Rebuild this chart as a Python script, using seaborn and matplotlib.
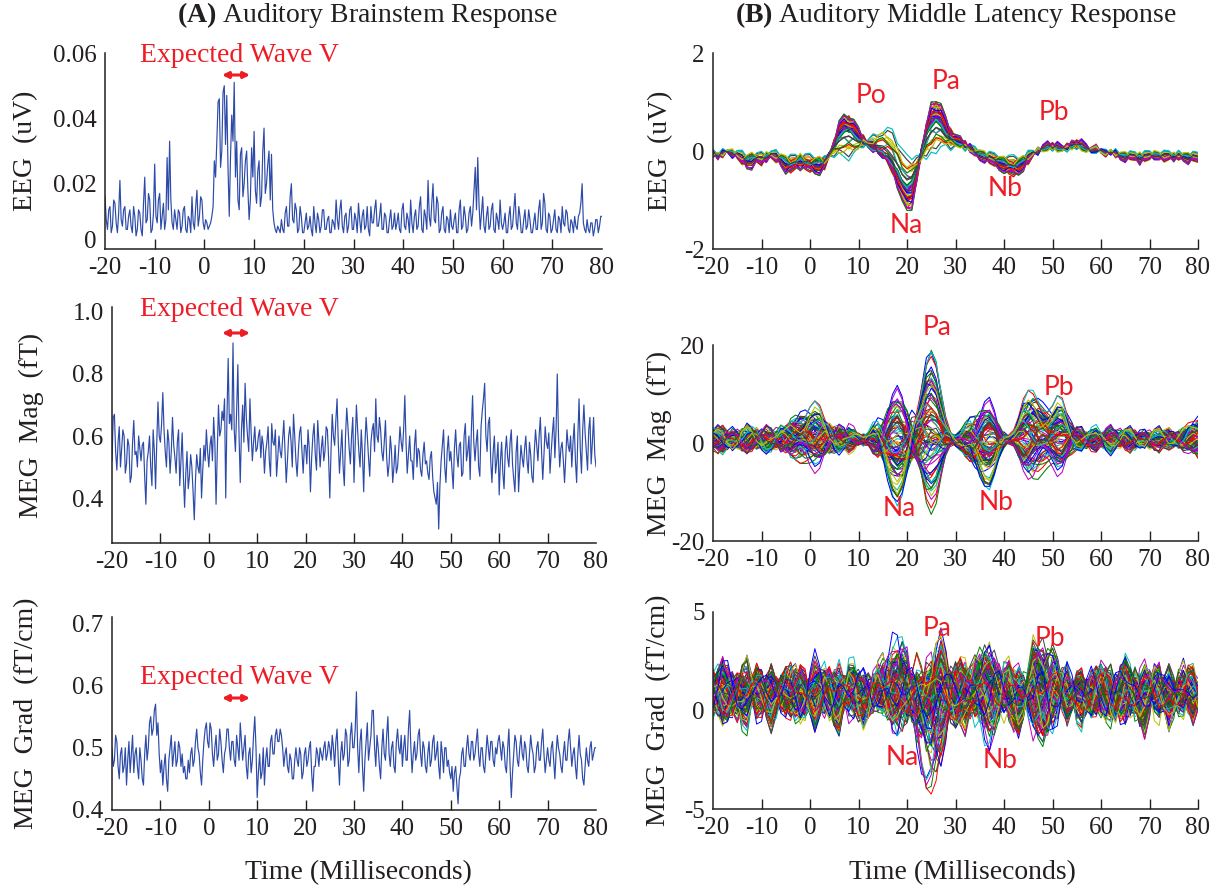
import numpy as np
import pandas as pd
import matplotlib
matplotlib.use("Agg")
import matplotlib.pyplot as plt
from matplotlib.transforms import ScaledTranslation
import seaborn as sns

# ------------------------------------------------------------------ data
XTICKS = [-20, -10, 0, 10, 20, 30, 40, 50, 60, 70, 80]
XTICK_LABELS = ["-20", "-10", "0", "10", "20", "30", "40", "50", "60", "70", "80"]
T0 = -20.0
ABR_DT = 0.25    # ms between ABR samples
MLR_DT = 1.0     # ms between MLR samples

ABR_EEG = [
    0.016, 0.009, 0.006, 0.012, 0.013, 0.005, 0.007, 0.015, 0.014, 0.008, 0.005, 0.011, 0.021, 0.009, 0.007, 0.012, 0.013, 0.006, 0.006, 0.010,
    0.012, 0.007, 0.005, 0.013, 0.010, 0.004, 0.006, 0.012, 0.011, 0.006, 0.004, 0.014, 0.022, 0.008, 0.009, 0.017, 0.015, 0.005, 0.006, 0.011,
    0.026, 0.010, 0.008, 0.015, 0.017, 0.006, 0.010, 0.014, 0.006, 0.009, 0.028, 0.012, 0.033, 0.015, 0.008, 0.006, 0.012, 0.009, 0.006, 0.012,
    0.011, 0.005, 0.007, 0.012, 0.013, 0.006, 0.005, 0.010, 0.009, 0.005, 0.016, 0.008, 0.006, 0.013, 0.018, 0.007, 0.010, 0.016, 0.015, 0.008,
    0.006, 0.009, 0.008, 0.006, 0.007, 0.008, 0.010, 0.013, 0.027, 0.022, 0.033, 0.045, 0.046, 0.025, 0.030, 0.048, 0.050, 0.032, 0.047, 0.025,
    0.010, 0.028, 0.041, 0.033, 0.051, 0.022, 0.033, 0.015, 0.012, 0.029, 0.031, 0.016, 0.020, 0.027, 0.030, 0.018, 0.009, 0.015, 0.031, 0.022,
    0.036, 0.018, 0.014, 0.024, 0.027, 0.013, 0.016, 0.030, 0.037, 0.017, 0.020, 0.026, 0.030, 0.015, 0.029, 0.012, 0.008, 0.006, 0.005, 0.007,
    0.006, 0.005, 0.009, 0.006, 0.005, 0.011, 0.013, 0.007, 0.007, 0.016, 0.020, 0.009, 0.008, 0.014, 0.012, 0.005, 0.006, 0.013, 0.010, 0.005,
    0.005, 0.008, 0.011, 0.006, 0.007, 0.010, 0.006, 0.004, 0.013, 0.008, 0.005, 0.011, 0.009, 0.005, 0.007, 0.012, 0.012, 0.006, 0.006, 0.009,
    0.010, 0.005, 0.005, 0.009, 0.008, 0.006, 0.015, 0.009, 0.006, 0.012, 0.015, 0.007, 0.005, 0.010, 0.011, 0.005, 0.007, 0.012, 0.013, 0.006,
    0.006, 0.011, 0.009, 0.005, 0.014, 0.009, 0.005, 0.010, 0.012, 0.006, 0.007, 0.013, 0.006, 0.004, 0.013, 0.008, 0.008, 0.012, 0.015, 0.007,
    0.007, 0.010, 0.014, 0.006, 0.006, 0.011, 0.010, 0.005, 0.005, 0.009, 0.012, 0.006, 0.007, 0.011, 0.006, 0.008, 0.011, 0.006, 0.005, 0.012,
    0.014, 0.007, 0.006, 0.011, 0.009, 0.005, 0.015, 0.008, 0.005, 0.010, 0.012, 0.006, 0.007, 0.013, 0.016, 0.006, 0.005, 0.012, 0.010, 0.006,
    0.021, 0.010, 0.007, 0.014, 0.020, 0.009, 0.008, 0.016, 0.014, 0.005, 0.006, 0.011, 0.013, 0.006, 0.005, 0.010, 0.009, 0.005, 0.012, 0.007,
    0.006, 0.009, 0.011, 0.005, 0.005, 0.012, 0.015, 0.006, 0.007, 0.013, 0.010, 0.005, 0.006, 0.011, 0.013, 0.007, 0.011, 0.018, 0.025, 0.012,
    0.028, 0.014, 0.006, 0.011, 0.016, 0.007, 0.005, 0.010, 0.013, 0.006, 0.007, 0.012, 0.014, 0.006, 0.005, 0.011, 0.009, 0.006, 0.015, 0.008,
    0.006, 0.008, 0.011, 0.005, 0.005, 0.010, 0.013, 0.006, 0.007, 0.012, 0.017, 0.008, 0.006, 0.013, 0.010, 0.005, 0.005, 0.009, 0.012, 0.006,
    0.007, 0.012, 0.009, 0.005, 0.005, 0.008, 0.011, 0.006, 0.006, 0.012, 0.015, 0.006, 0.008, 0.017, 0.014, 0.006, 0.005, 0.011, 0.010, 0.005,
    0.006, 0.009, 0.012, 0.006, 0.005, 0.010, 0.009, 0.005, 0.013, 0.008, 0.007, 0.012, 0.011, 0.006, 0.005, 0.009, 0.008, 0.005, 0.010, 0.007,
    0.006, 0.010, 0.011, 0.014, 0.020, 0.008, 0.006, 0.005, 0.009, 0.006, 0.005, 0.008, 0.008, 0.004, 0.006, 0.009, 0.009, 0.005, 0.007, 0.010,
    0.010,
]

ABR_MAG = [
    0.52, 0.66, 0.67, 0.55, 0.49, 0.58, 0.63, 0.50, 0.56, 0.62, 0.60, 0.48, 0.51, 0.59, 0.57, 0.45, 0.47, 0.58, 0.65, 0.54,
    0.55, 0.50, 0.60, 0.56, 0.52, 0.57, 0.58, 0.47, 0.38, 0.52, 0.55, 0.60, 0.50, 0.44, 0.62, 0.55, 0.43, 0.58, 0.71, 0.60,
    0.58, 0.64, 0.74, 0.62, 0.55, 0.50, 0.62, 0.58, 0.48, 0.55, 0.66, 0.57, 0.53, 0.48, 0.58, 0.62, 0.44, 0.52, 0.61, 0.47,
    0.37, 0.48, 0.55, 0.43, 0.47, 0.54, 0.50, 0.42, 0.33, 0.46, 0.54, 0.50, 0.48, 0.56, 0.40, 0.49, 0.57, 0.52, 0.62, 0.55,
    0.50, 0.57, 0.60, 0.52, 0.66, 0.58, 0.38, 0.55, 0.70, 0.60, 0.62, 0.68, 0.65, 0.72, 0.40, 0.66, 0.85, 0.64, 0.67, 0.62,
    0.90, 0.62, 0.55, 0.68, 0.83, 0.60, 0.45, 0.62, 0.70, 0.58, 0.77, 0.66, 0.60, 0.55, 0.72, 0.61, 0.52, 0.58, 0.63, 0.55,
    0.56, 0.60, 0.62, 0.53, 0.60, 0.57, 0.48, 0.55, 0.58, 0.63, 0.52, 0.47, 0.64, 0.58, 0.57, 0.62, 0.47, 0.53, 0.60, 0.55,
    0.53, 0.59, 0.65, 0.55, 0.45, 0.52, 0.60, 0.63, 0.58, 0.50, 0.67, 0.60, 0.52, 0.47, 0.55, 0.61, 0.63, 0.55, 0.48, 0.57,
    0.57, 0.51, 0.62, 0.56, 0.42, 0.53, 0.60, 0.64, 0.54, 0.49, 0.65, 0.58, 0.50, 0.56, 0.60, 0.52, 0.55, 0.63, 0.62, 0.53,
    0.40, 0.55, 0.67, 0.60, 0.57, 0.65, 0.72, 0.58, 0.48, 0.55, 0.62, 0.50, 0.44, 0.60, 0.69, 0.63, 0.56, 0.51, 0.60, 0.66,
    0.45, 0.58, 0.70, 0.62, 0.55, 0.50, 0.62, 0.54, 0.42, 0.57, 0.66, 0.60, 0.53, 0.47, 0.58, 0.62, 0.64, 0.55, 0.72, 0.60,
    0.58, 0.66, 0.62, 0.55, 0.52, 0.58, 0.65, 0.53, 0.47, 0.51, 0.60, 0.55, 0.45, 0.50, 0.57, 0.48, 0.50, 0.56, 0.63, 0.58,
    0.55, 0.62, 0.73, 0.58, 0.48, 0.54, 0.60, 0.52, 0.52, 0.46, 0.57, 0.62, 0.50, 0.56, 0.55, 0.49, 0.47, 0.54, 0.58, 0.51,
    0.52, 0.48, 0.46, 0.53, 0.55, 0.47, 0.42, 0.40, 0.38, 0.45, 0.30, 0.44, 0.52, 0.57, 0.62, 0.50, 0.45, 0.55, 0.60, 0.52,
    0.55, 0.49, 0.43, 0.56, 0.62, 0.54, 0.50, 0.57, 0.58, 0.47, 0.48, 0.60, 0.64, 0.52, 0.55, 0.60, 0.46, 0.62, 0.73, 0.58,
    0.52, 0.58, 0.62, 0.50, 0.47, 0.63, 0.68, 0.72, 0.77, 0.60, 0.55, 0.64, 0.66, 0.52, 0.45, 0.55, 0.60, 0.48, 0.52, 0.58,
    0.41, 0.52, 0.58, 0.48, 0.43, 0.55, 0.60, 0.53, 0.50, 0.58, 0.62, 0.51, 0.46, 0.42, 0.55, 0.60, 0.42, 0.50, 0.57, 0.53,
    0.50, 0.56, 0.60, 0.52, 0.48, 0.58, 0.54, 0.47, 0.45, 0.55, 0.62, 0.57, 0.52, 0.60, 0.66, 0.55, 0.46, 0.54, 0.63, 0.58,
    0.56, 0.61, 0.48, 0.55, 0.61, 0.66, 0.53, 0.62, 0.80, 0.60, 0.50, 0.56, 0.58, 0.52, 0.45, 0.53, 0.62, 0.57, 0.55, 0.60,
    0.50, 0.58, 0.64, 0.52, 0.45, 0.60, 0.72, 0.56, 0.48, 0.62, 0.70, 0.61, 0.55, 0.49, 0.62, 0.66, 0.51, 0.58, 0.66, 0.54,
    0.50,
]

ABR_GRAD = [
    0.50, 0.47, 0.48, 0.52, 0.51, 0.47, 0.45, 0.49, 0.50, 0.46, 0.47, 0.50, 0.44, 0.48, 0.51, 0.46, 0.49, 0.52, 0.46, 0.49,
    0.50, 0.47, 0.45, 0.50, 0.48, 0.45, 0.44, 0.49, 0.52, 0.48, 0.50, 0.54, 0.55, 0.52, 0.53, 0.56, 0.57, 0.52, 0.54, 0.49,
    0.46, 0.48, 0.44, 0.47, 0.49, 0.45, 0.43, 0.48, 0.50, 0.52, 0.47, 0.49, 0.51, 0.47, 0.48, 0.51, 0.50, 0.47, 0.49, 0.46,
    0.47, 0.45, 0.45, 0.48, 0.46, 0.49, 0.50, 0.47, 0.48, 0.51, 0.53, 0.50, 0.49, 0.46, 0.44, 0.48, 0.51, 0.53, 0.54, 0.51,
    0.50, 0.54, 0.53, 0.49, 0.47, 0.50, 0.52, 0.48, 0.49, 0.53, 0.51, 0.48, 0.46, 0.49, 0.50, 0.53, 0.53, 0.50, 0.48, 0.51,
    0.51, 0.48, 0.47, 0.52, 0.50, 0.48, 0.54, 0.51, 0.48, 0.50, 0.52, 0.47, 0.45, 0.49, 0.50, 0.46, 0.48, 0.52, 0.55, 0.50,
    0.42, 0.46, 0.49, 0.45, 0.46, 0.50, 0.44, 0.48, 0.50, 0.47, 0.47, 0.51, 0.52, 0.49, 0.49, 0.52, 0.53, 0.51, 0.51, 0.53,
    0.52, 0.50, 0.47, 0.49, 0.50, 0.47, 0.46, 0.49, 0.48, 0.45, 0.45, 0.48, 0.50, 0.48, 0.47, 0.50, 0.49, 0.45, 0.46, 0.49,
    0.50, 0.47, 0.48, 0.50, 0.51, 0.46, 0.43, 0.47, 0.47, 0.50, 0.49, 0.47, 0.50, 0.49, 0.48, 0.50, 0.51, 0.48, 0.49, 0.51,
    0.50, 0.48, 0.52, 0.50, 0.47, 0.51, 0.53, 0.48, 0.44, 0.49, 0.51, 0.48, 0.49, 0.53, 0.52, 0.47, 0.48, 0.52, 0.54, 0.50,
    0.50, 0.53, 0.59, 0.50, 0.46, 0.51, 0.53, 0.47, 0.43, 0.48, 0.51, 0.54, 0.48, 0.50, 0.52, 0.56, 0.56, 0.50, 0.47, 0.52,
    0.50, 0.47, 0.45, 0.50, 0.53, 0.49, 0.48, 0.52, 0.55, 0.49, 0.47, 0.50, 0.51, 0.47, 0.46, 0.51, 0.53, 0.50, 0.49, 0.52,
    0.47, 0.50, 0.52, 0.48, 0.48, 0.53, 0.56, 0.50, 0.46, 0.49, 0.51, 0.48, 0.49, 0.52, 0.53, 0.49, 0.47, 0.51, 0.50, 0.47,
    0.46, 0.49, 0.51, 0.47, 0.48, 0.51, 0.52, 0.48, 0.49, 0.51, 0.47, 0.45, 0.51, 0.49, 0.46, 0.50, 0.50, 0.47, 0.48, 0.46,
    0.45, 0.47, 0.43, 0.46, 0.47, 0.44, 0.41, 0.45, 0.46, 0.49, 0.50, 0.47, 0.47, 0.50, 0.52, 0.49, 0.48, 0.51, 0.51, 0.48,
    0.49, 0.51, 0.53, 0.49, 0.47, 0.50, 0.50, 0.47, 0.46, 0.49, 0.52, 0.50, 0.48, 0.51, 0.51, 0.48, 0.47, 0.50, 0.49, 0.51,
    0.52, 0.50, 0.48, 0.51, 0.50, 0.47, 0.46, 0.50, 0.53, 0.47, 0.42, 0.46, 0.49, 0.52, 0.51, 0.48, 0.47, 0.50, 0.52, 0.49,
    0.48, 0.51, 0.50, 0.47, 0.46, 0.49, 0.52, 0.50, 0.49, 0.46, 0.47, 0.50, 0.51, 0.48, 0.48, 0.51, 0.53, 0.49, 0.46, 0.48,
    0.50, 0.48, 0.47, 0.50, 0.51, 0.48, 0.45, 0.49, 0.52, 0.50, 0.49, 0.47, 0.46, 0.49, 0.51, 0.48, 0.48, 0.51, 0.53, 0.50,
    0.47, 0.49, 0.50, 0.47, 0.45, 0.49, 0.52, 0.49, 0.48, 0.45, 0.44, 0.47, 0.50, 0.48, 0.47, 0.50, 0.51, 0.48, 0.49, 0.50,
    0.50,
]

# ---- MLR EEG: shared waveform, alternative waveform, small ripple
MLR_EEG_MAIN = [
    -0.05, -0.10, -0.05, 0.00, -0.05, -0.08, -0.15, -0.22, -0.20, -0.15,
    -0.18, -0.12, -0.08, -0.12, -0.18, -0.28, -0.30, -0.25, -0.22, -0.25,
    -0.28, -0.30, -0.30, -0.25, -0.05, 0.15, 0.38, 0.50, 0.50, 0.42,
    0.30, 0.20, 0.12, 0.06, 0.00, -0.06, -0.15, -0.30, -0.50, -0.72,
    -0.85, -0.80, -0.45, 0.00, 0.40, 0.65, 0.72, 0.65, 0.45, 0.30,
    0.22, 0.18, 0.12, 0.05, -0.05, -0.10, -0.12, -0.15, -0.20, -0.25,
    -0.28, -0.32, -0.35, -0.32, -0.25, -0.15, -0.05, 0.00, 0.05, 0.10,
    0.10, 0.08, 0.05, 0.08, 0.12, 0.15, 0.12, 0.05, 0.02, 0.05,
    0.00, -0.05, -0.02, -0.05, -0.10, -0.12, -0.10, -0.12, -0.15, -0.12,
    -0.10, -0.08, -0.10, -0.12, -0.10, -0.12, -0.10, -0.12, -0.15, -0.12,
    -0.15,
]
MLR_EEG_ALT = [0.0] * 20 + [
    0.00, 0.00, 0.00, -0.05, -0.10, -0.15, -0.25, -0.35, -0.35, -0.25,
    -0.10, 0.05, 0.15, 0.25, 0.35, 0.45, 0.50, 0.50, 0.40, 0.30,
    0.25, 0.20, 0.05, -0.15, -0.30, -0.35, -0.30, -0.20, -0.10, -0.05,
    0.00, 0.00, 0.00, 0.05, 0.08, 0.05, 0.00, 0.00, 0.00, 0.00,
] + [0.0] * 41
MLR_EEG_RIPPLE = [
    0.05, -0.03, 0.06, -0.02, -0.06, 0.04, 0.07, -0.04, -0.08, 0.02,
    0.06, -0.05, 0.03, 0.07, -0.04, -0.06, 0.05, 0.03, -0.07, 0.04,
    0.06, -0.03, -0.06, 0.05, 0.02, -0.04, 0.06, 0.03, -0.05, 0.04,
    0.05, -0.06, 0.03, 0.07, -0.03, -0.05, 0.04, 0.06, -0.04, 0.03,
    0.02, -0.05, 0.04, 0.05, -0.03, 0.06, -0.04, 0.03, 0.05, -0.06,
    0.02, 0.04, -0.05, 0.06, 0.03, -0.04, -0.06, 0.05, 0.04, -0.03,
    -0.05, 0.04, 0.06, -0.03, -0.05, 0.07, 0.03, -0.06, 0.04, 0.05,
    -0.04, 0.06, 0.03, -0.05, 0.04, -0.03, 0.06, 0.05, -0.04, -0.06,
    0.03, 0.05, -0.04, 0.06, -0.03, -0.05, 0.04, 0.03, -0.06, 0.05,
    0.04, -0.05, -0.03, 0.06, 0.04, -0.04, 0.05, -0.03, -0.05, 0.04,
    0.03,
]
EEG_GAIN = [1.0, 0.8, 1.2, 0.9, 1.4, 0.6, 1.1, 0.95, 1.3, 0.7, 1.05, 0.85, 1.25, 0.5,
            1.15, 0.9, 1.35, 0.75, 1.0, 0.65, 1.2, 0.88, 1.45, 0.55, 1.1, 0.98, 1.3,
            0.72, 1.02, 0.82, 1.18, 0.4, 0.92, 1.08, 0.78, 1.22, 0.68, 1.12, 0.86,
            1.38, 0.6, 0.96]
EEG_ALT_W = [0, 0, 0.2, 0, 0, 0.6, 0, 0, 0, 0.3, 0, 0, 0, 0.9, 0, 0.1, 0, 0.4, 0,
             0.7, 0, 0, 0, 0.5, 0, 0, 0, 0.2, 0, 0, 0, 1.0, 0, 0, 0.3, 0, 0.6, 0, 0,
             0, 0.8, 0]
EEG_RIPPLE_W = [1.0, -0.8, 0.5, -1.2, 1.4, -0.3, 0.9, -1.0, 0.2, 1.2, -0.6, 0.7, -1.4,
                1.1, -0.2, 0.6, -0.9, 1.3, -0.5, 0.8, -1.1, 0.4, 1.0, -0.7, 0.3, -1.3,
                1.2, -0.4, 0.9, -0.8, 0.5, 1.1, -1.0, 0.6, -0.3, 1.4, -0.9, 0.2, -0.6,
                0.8, -1.2, 0.7]

# ---- MLR MEG magnetometers (fT)
MAG_PA = [
    0, 0, 0, 0, 0, 0, 0.02, 0.03, 0.02, 0.0,
    -0.02, 0.0, 0.03, 0.05, 0.04, 0.03, 0.08, 0.15, 0.25, 0.33,
    0.38, 0.35, 0.25, 0.12, 0.02, -0.03, 0.0, 0.06, 0.08, 0.05,
    0.02, 0.0, 0.02, 0.0, -0.08, -0.2, -0.3, -0.38, -0.42, -0.4,
    -0.3, -0.12, 0.12, 0.48, 0.85, 1.0, 0.88, 0.55, 0.2, 0.02,
    -0.05, -0.12, -0.2, -0.26, -0.32, -0.35, -0.36, -0.33, -0.25, -0.15,
    -0.05, 0.02, 0.06, 0.15, 0.28, 0.38, 0.44, 0.45, 0.4, 0.35,
    0.3, 0.32, 0.3, 0.22, 0.14, 0.08, 0.04, 0.0, -0.02, 0.0,
    0.02, 0.0, -0.02, 0.0, 0.02, 0.03, 0.0, -0.02, 0.0, 0.02,
    0.03, 0.02, 0.0, 0.0, 0.02, 0.03, 0.05, 0.08, 0.1, 0.12,
    0.15,
]
MAG_NA = [
    0, 0, 0.02, 0.03, 0.0, -0.02, 0.0, 0.03, 0.05, 0.03,
    0.0, -0.03, -0.05, -0.03, 0.0, 0.02, 0.0, -0.05, -0.12, -0.2,
    -0.25, -0.22, -0.15, -0.06, 0.02, 0.08, 0.12, 0.1, 0.05, 0.02,
    0.0, 0.0, 0.05, 0.15, 0.28, 0.45, 0.65, 0.85, 0.98, 1.0,
    0.8, 0.45, 0.1, -0.15, -0.3, -0.35, -0.3, -0.2, -0.08, 0.0,
    0.04, 0.12, 0.22, 0.33, 0.42, 0.48, 0.5, 0.46, 0.35, 0.2,
    0.08, 0.0, -0.04, -0.12, -0.22, -0.33, -0.4, -0.45, -0.43, -0.38,
    -0.32, -0.26, -0.18, -0.1, -0.04, 0.0, 0.04, 0.05, 0.02, 0.0,
    -0.02, 0.0, 0.03, 0.05, 0.03, 0.0, -0.02, 0.0, 0.02, 0.03,
    0.02, 0.0, -0.02, 0.0, 0.02, 0.0, -0.03, -0.05, -0.06, -0.08,
    -0.1,
]
MAG_BG1 = [
    0.8, 1.5, 1.2, 0.2, -0.8, -1.2, -0.5, 0.6, 1.4, 1.0,
    0.0, -1.0, -1.5, -0.8, 0.4, 1.3, 1.6, 0.7, -0.5, -1.4,
    -1.6, -0.8, 0.5, 1.5, 1.7, 0.9, -0.3, -1.3, -1.5, -0.6,
    0.2, 0.3, 0.6, 1.4, 1.8, 1.0, -0.4, -1.6, -2.0, -1.1,
    0.3, 1.6, 2.0, 1.2, -0.2, -1.5, -1.8, -0.9, 0.2, 0.4,
    0.1, 0.3, 1.2, 1.9, 1.5, 0.3, -1.0, -1.8, -1.4, -0.4,
    0.2, 0.1, 0.3, 1.0, 1.6, 1.3, 0.2, -1.0, -1.6, -1.1,
    0.0, 1.1, 1.5, 0.8, -0.4, -1.3, -1.2, -0.3, 0.7, 1.2,
    0.8, -0.2, -1.0, -1.2, -0.4, 0.6, 1.1, 0.7, -0.3, -1.0,
    -0.9, 0.0, 0.9, 1.2, 0.5, -0.5, -1.1, -0.8, 0.2, 1.0,
    1.3,
]
MAG_BG2 = [
    -1.0, -0.3, 0.6, 1.2, 0.9, 0.0, -0.9, -1.3, -0.6, 0.5,
    1.3, 1.1, 0.2, -0.8, -1.4, -0.9, 0.2, 1.2, 1.5, 0.8,
    -0.4, -1.4, -1.6, -0.7, 0.6, 1.5, 1.4, 0.3, -0.9, -1.2,
    -0.4, 0.3, -0.2, -1.2, -1.6, -0.8, 0.6, 1.7, 1.9, 0.8,
    -0.7, -1.8, -1.7, -0.4, 1.0, 1.8, 1.4, 0.2, -0.6, -0.5,
    -0.1, -0.4, -1.3, -1.8, -1.1, 0.3, 1.5, 1.8, 0.9, -0.3,
    -0.4, 0.0, -0.2, -1.1, -1.7, -1.0, 0.4, 1.4, 1.5, 0.6,
    -0.5, -1.3, -1.2, -0.2, 0.9, 1.3, 0.6, -0.5, -1.2, -0.9,
    0.1, 1.0, 1.1, 0.3, -0.7, -1.1, -0.5, 0.5, 1.0, 0.6,
    -0.4, -1.0, -0.7, 0.3, 1.0, 0.9, 0.0, -0.9, -1.2, -0.5,
    0.6,
]
MAG_BG3 = [
    0.5, -0.6, -0.9, 0.2, 1.0, 0.4, -0.7, -0.8, 0.3, 0.9,
    0.2, -0.8, -0.6, 0.5, 1.0, 0.1, -0.9, -0.5, 0.6, 0.8,
    -0.2, -1.0, -0.4, 0.7, 0.9, -0.1, -0.9, -0.6, 0.5, 0.6,
    0.0, -0.2, 0.3, 0.9, 0.2, -0.8, -0.9, 0.2, 1.1, 0.5,
    -0.7, -1.0, 0.1, 1.0, 0.6, -0.6, -0.9, 0.0, 0.5, 0.2,
    -0.1, 0.2, 0.8, 0.3, -0.7, -0.8, 0.2, 0.9, 0.4, -0.6,
    -0.3, 0.0, 0.2, 0.8, 0.3, -0.7, -0.9, 0.1, 0.9, 0.6,
    -0.4, -0.9, -0.2, 0.7, 0.8, -0.1, -0.8, -0.5, 0.5, 0.8,
    0.1, -0.7, -0.6, 0.4, 0.9, 0.2, -0.7, -0.6, 0.3, 0.7,
    0.2, -0.6, -0.7, 0.3, 0.8, 0.3, -0.5, -0.8, 0.0, 0.7,
    0.5,
]
MAG_N_CH = 84
MAG_PA_W = [18.5, -13.0, 6.0, 2.0, -4.0, 16.0, 0.0, 9.0, -8.0, 3.0, -2.0, 14.0, -11.0,
            5.0, 1.0, -6.0, 12.0, -1.0, 7.5, -9.5, 10.5, 4.0]
MAG_NA_W = [0.0, 2.8, -2.4, 1.6, -3.6, 0.8, 3.6, -1.6, 2.0, -2.8, 0.8, 3.2, -0.8, -3.2,
            2.4, -2.0]
MAG_BG1_W = [0.9, -0.6, 0.3, 1.1, -0.9, 0.7, -0.2, 1.0, -0.8, 0.5, -1.1]
MAG_BG2_W = [0.6, -0.9, 1.0, -0.4, 0.8, -1.0, 0.2, 0.9, -0.7]
MAG_BG3_W = [0.8, 0.3, -0.9, 1.0, -0.5, 0.6, -1.0, 0.0]
MAG_OFF = [0.8, 0.3, 1.2, 0.5, 1.0, 0.1]

# ---- MLR MEG gradiometers (fT/cm)
GRAD_NA = [0.0] * 30 + [
    0.0, 0.0, 0.0, 0.04, 0.08, 0.15, 0.25, 0.3, 0.3, 0.25,
    0.1, -0.1, -0.35, -0.65, -0.9, -1.0, -0.9, -0.6, -0.3, -0.05,
    0.1, 0.15, 0.12, 0.08, 0.04, 0.0, 0.0, 0.0, 0.0, 0.0,
] + [0.0] * 41
GRAD_OSC = [0.0] * 30 + [
    0.0, 0.0, 0.0, 0.05, 0.1, 0.2, 0.4, 0.65, 0.7, 0.55,
    0.25, -0.1, -0.3, -0.2, 0.1, 0.5, 0.8, 0.7, 0.4, 0.0,
    -0.3, -0.4, -0.3, 0.0, 0.4, 0.7, 0.9, 0.9, 0.6, 0.2,
    -0.2, -0.4, -0.3, -0.1, 0.1, 0.3, 0.5, 0.7, 0.85, 0.9,
    0.7, 0.4, 0.1, -0.1, -0.1, 0.0, 0.0, 0.0, 0.0, 0.0,
] + [0.0] * 21
GRAD_BG1 = [
    0.6, 0.9, 0.3, -0.5, -0.8, -0.2, 0.6, 0.8, 0.1, -0.7,
    -0.7, 0.1, 0.8, 0.6, -0.3, -0.9, -0.4, 0.5, 0.9, 0.2,
    -0.6, -0.8, 0.0, 0.8, 0.7, -0.2, -0.9, -0.5, 0.4, 0.9,
    0.3, -0.6, -0.8, 0.1, 0.9, 0.5, -0.5, -0.9, -0.1, 0.8,
    0.6, -0.4, -0.9, -0.2, 0.7, 0.8, -0.1, -0.8, -0.5, 0.5,
    0.9, 0.2, -0.7, -0.7, 0.2, 0.9, 0.4, -0.6, -0.8, 0.1,
    0.8, 0.5, -0.4, -0.9, -0.2, 0.7, 0.7, -0.2, -0.9, -0.4,
    0.6, 0.8, -0.1, -0.8, -0.6, 0.4, 0.9, 0.1, -0.7, -0.7,
    0.2, 0.9, 0.4, -0.6, -0.8, 0.1, 0.8, 0.5, -0.5, -0.9,
    -0.1, 0.8, 0.6, -0.4, -0.9, -0.2, 0.7, 0.7, -0.3, -0.8,
    -0.3,
]
GRAD_BG2 = [
    -0.4, 0.3, 0.8, 0.6, -0.1, -0.7, -0.8, -0.2, 0.5, 0.9,
    0.4, -0.3, -0.8, -0.6, 0.2, 0.8, 0.7, 0.0, -0.7, -0.8,
    -0.1, 0.6, 0.9, 0.3, -0.5, -0.9, -0.4, 0.4, 0.8, 0.5,
    -0.2, -0.8, -0.7, 0.0, 0.7, 0.8, 0.2, -0.6, -0.9, -0.3,
    0.5, 0.9, 0.4, -0.4, -0.9, -0.5, 0.3, 0.8, 0.6, -0.1,
    -0.7, -0.8, -0.1, 0.6, 0.9, 0.3, -0.5, -0.9, -0.4, 0.4,
    0.9, 0.5, -0.3, -0.8, -0.6, 0.1, 0.8, 0.7, -0.1, -0.8,
    -0.7, 0.0, 0.7, 0.8, 0.2, -0.6, -0.9, -0.3, 0.5, 0.9,
    0.4, -0.4, -0.9, -0.5, 0.3, 0.8, 0.6, -0.2, -0.8, -0.6,
    0.1, 0.8, 0.7, -0.1, -0.7, -0.8, -0.1, 0.6, 0.9, 0.3,
    -0.4,
]
GRAD_BG3 = [
    0.8, 0.0, -0.8, -0.4, 0.6, 0.7, -0.3, -0.9, 0.0, 0.8,
    0.5, -0.5, -0.8, 0.2, 0.9, 0.2, -0.7, -0.6, 0.4, 0.8,
    -0.1, -0.9, -0.3, 0.7, 0.6, -0.4, -0.8, 0.1, 0.9, 0.3,
    -0.6, -0.7, 0.3, 0.9, 0.0, -0.8, -0.4, 0.6, 0.7, -0.3,
    -0.9, -0.1, 0.8, 0.5, -0.5, -0.8, 0.2, 0.9, 0.2, -0.7,
    -0.6, 0.4, 0.8, -0.1, -0.9, -0.3, 0.7, 0.6, -0.4, -0.8,
    0.1, 0.9, 0.3, -0.6, -0.7, 0.3, 0.9, 0.0, -0.8, -0.4,
    0.6, 0.7, -0.3, -0.9, 0.0, 0.8, 0.5, -0.5, -0.8, 0.2,
    0.9, 0.2, -0.7, -0.6, 0.4, 0.8, -0.1, -0.9, -0.3, 0.7,
    0.6, -0.4, -0.8, 0.1, 0.9, 0.3, -0.6, -0.7, 0.3, 0.9,
    0.0,
]
GRAD_BG4 = [
    0.2, 0.6, 0.9, 0.8, 0.4, -0.2, -0.7, -0.9, -0.7, -0.2,
    0.4, 0.8, 0.9, 0.6, 0.0, -0.5, -0.9, -0.8, -0.4, 0.2,
    0.7, 0.9, 0.7, 0.2, -0.4, -0.8, -0.9, -0.5, 0.1, 0.6,
    0.9, 0.8, 0.3, -0.3, -0.8, -0.9, -0.6, 0.0, 0.6, 0.9,
    0.8, 0.4, -0.2, -0.7, -0.9, -0.7, -0.1, 0.5, 0.9, 0.8,
    0.4, -0.2, -0.7, -0.9, -0.7, -0.2, 0.4, 0.8, 0.9, 0.5,
    -0.1, -0.6, -0.9, -0.8, -0.3, 0.3, 0.8, 0.9, 0.6, 0.0,
    -0.6, -0.9, -0.8, -0.3, 0.3, 0.8, 0.9, 0.5, -0.1, -0.6,
    -0.9, -0.7, -0.2, 0.4, 0.8, 0.9, 0.5, -0.1, -0.7, -0.9,
    -0.8, -0.3, 0.3, 0.8, 0.9, 0.6, 0.0, -0.6, -0.9, -0.7,
    -0.2,
]
GRAD_N_CH = 150
GRAD_OFF = [0.8, 1.0, 0.6, 0.9, 1.1, 0.7, 0.75, 0.95, 0.6, 1.05, 0.8, 0.9, 0.65]
GRAD_NA_W = [4.4, -1.0, 0.6, 0.2, 1.5, -0.5, 0.0, 2.4, -1.2, 1.0, 0.4, -0.2, 1.3, 0.5,
             -0.7, 0.8, 2.0, -0.4, 0.3, 1.1, -0.8, 0.0, 1.7, 0.6, -0.3, 3.2, 0.2, -0.6,
             0.9, 1.4, -1.4, 0.1, 0.7, -0.1, 1.2, 0.5]
GRAD_OSC_W = [1.2, -1.6, 0.4, 1.7, -0.5, 0.0, 0.8, -1.2, 0.3, 1.4, -0.2, 0.6, -0.7,
              1.9, 0.9]
GRAD_BG1_W = [0.5, -0.35, 0.7, 0.25, -0.6, 0.45, -0.2, 0.6, -0.5, 0.35, 0.75]
GRAD_BG2_W = [0.45, 0.7, -0.25, 0.5, -0.6, 0.2, 0.75, -0.45, 0.35]
GRAD_BG3_W = [-0.45, 0.6, 0.35, -0.7, 0.25, 0.5, -0.2, 0.7]
GRAD_BG4_W = [0.6, -0.25, 0.45, 0.7, -0.5, -0.7]

# ---- text
TITLE_A = r"$\mathbf{(A)}$ Auditory Brainstem Response"
TITLE_B = r"$\mathbf{(B)}$ Auditory Middle Latency Response"
YLABELS_A = ["EEG  (uV)", "MEG  Mag  (fT)", "MEG  Grad  (fT/cm)"]
YLABELS_B = ["EEG  (uV)", "MEG  Mag  (fT)", "MEG  Grad  (fT/cm)"]
XLABEL = "Time (Milliseconds)"
WAVE_TEXT = "Expected Wave V"
PEAKS_EEG = [("Po", 12.5, 1.14), ("Pa", 28.1, 1.41), ("Na", 19.8, -1.53),
             ("Nb", 40.3, -0.76), ("Pb", 50.2, 0.78)]
PEAKS_MAG = [("Pa", 26.2, 23.5), ("Pb", 51.3, 11.4), ("Na", 18.4, -13.3),
             ("Nb", 38.4, -12.2)]
PEAKS_GRAD = [("Pa", 26.2, 4.16), ("Pb", 49.4, 3.65), ("Na", 19.0, -2.39),
              ("Nb", 39.2, -2.54)]

# ------------------------------------------------------------------ style
sns.set_theme(style="white")
SERIF = ["Liberation Serif", "DejaVu Serif"]
plt.rcParams["font.family"] = SERIF
plt.rcParams["mathtext.fontset"] = "custom"
plt.rcParams["mathtext.rm"] = "Liberation Serif"
plt.rcParams["mathtext.bf"] = "Liberation Serif:bold"
plt.rcParams["axes.unicode_minus"] = False

W, H = 1228, 890
INK = "#231f20"
RED = "#ee1c25"
BLUE = "#2c4aa8"
MATLAB = ["#0000ff", "#008000", "#ff0000", "#00bfbf", "#bf00bf", "#bfbf00", "#404040"]

fig = plt.figure(figsize=(W / 100, H / 100), dpi=100)
fig.patch.set_facecolor("white")


def px_axes(left, top, right, bottom):
    return fig.add_axes([left / W, 1 - bottom / H, (right - left) / W, (bottom - top) / H])


def style(ax, ylim, yticks, ylabels, ylabel, ylabel_px, left_px, width_px, hide_last):
    ax.set_xlim(-20, 80)
    ax.set_ylim(*ylim)
    ax.set_facecolor("none")
    for s in ["top", "right"]:
        ax.spines[s].set_visible(False)
    for s in ["left", "bottom"]:
        ax.spines[s].set_linewidth(1.1)
        ax.spines[s].set_color(INK)
    ax.set_xticks(XTICKS)
    ax.set_xticklabels(XTICK_LABELS, fontfamily=SERIF)
    ax.set_yticks(yticks)
    ax.set_yticklabels(ylabels, fontfamily=SERIF)
    ax.tick_params(axis="x", direction="in", length=7.5, width=1.0, color=INK, pad=6,
                   labelsize=18, labelcolor=INK, bottom=True)
    ax.tick_params(axis="y", length=0, pad=6, labelsize=18, labelcolor=INK, left=True)
    ticks = ax.xaxis.get_major_ticks()
    ticks[0].tick1line.set_visible(False)
    if hide_last:
        ticks[-1].tick1line.set_visible(False)
    ax.set_xlabel("")
    ax.set_ylabel(ylabel, fontsize=20, color=INK, va="center", ha="center", fontfamily=SERIF)
    ax.yaxis.set_label_coords((ylabel_px - left_px) / width_px, 0.5)
    ax.grid(False)


def abr_panel(ax, values):
    t = T0 + ABR_DT * np.arange(len(values))
    df = pd.DataFrame({"t": t, "v": values})
    sns.lineplot(data=df, x="t", y="v", color=BLUE, linewidth=0.85, ax=ax)


def mlr_panel(ax, rows, lw):
    t = T0 + MLR_DT * np.arange(len(rows[0]))
    names = [f"ch{k:03d}" for k in range(len(rows))]
    df = pd.concat([pd.DataFrame({"t": t, "v": r, "ch": n}) for n, r in zip(names, rows)],
                   ignore_index=True)
    pal = {n: MATLAB[k % len(MATLAB)] for k, n in enumerate(names)}
    sns.lineplot(data=df, x="t", y="v", hue="ch", hue_order=names, palette=pal,
                 estimator=None, legend=False, linewidth=lw, ax=ax)


# ---- channels
eeg_rows = [g * np.array(MLR_EEG_MAIN) + a * np.array(MLR_EEG_ALT) + w * np.array(MLR_EEG_RIPPLE)
            for g, a, w in zip(EEG_GAIN, EEG_ALT_W, EEG_RIPPLE_W)]
mag_rows = []
for k in range(MAG_N_CH):
    mag_rows.append(MAG_PA_W[k % len(MAG_PA_W)] * np.array(MAG_PA)
                    + MAG_NA_W[k % len(MAG_NA_W)] * np.array(MAG_NA)
                    + MAG_BG1_W[k % len(MAG_BG1_W)] * np.array(MAG_BG1)
                    + MAG_BG2_W[k % len(MAG_BG2_W)] * np.array(MAG_BG2)
                    + MAG_BG3_W[k % len(MAG_BG3_W)] * np.array(MAG_BG3)
                    + MAG_OFF[k % len(MAG_OFF)])
grad_rows = []
for k in range(GRAD_N_CH):
    grad_rows.append(GRAD_OFF[k % len(GRAD_OFF)]
                     + GRAD_NA_W[k % len(GRAD_NA_W)] * np.array(GRAD_NA)
                     + GRAD_OSC_W[k % len(GRAD_OSC_W)] * np.array(GRAD_OSC)
                     + GRAD_BG1_W[k % len(GRAD_BG1_W)] * np.array(GRAD_BG1)
                     + GRAD_BG2_W[k % len(GRAD_BG2_W)] * np.array(GRAD_BG2)
                     + GRAD_BG3_W[k % len(GRAD_BG3_W)] * np.array(GRAD_BG3)
                     + GRAD_BG4_W[k % len(GRAD_BG4_W)] * np.array(GRAD_BG4))

# ---- left column
a1 = px_axes(105, 53, 602, 249)
abr_panel(a1, ABR_EEG)
style(a1, (0, 0.06), [0, 0.02, 0.04, 0.06], ["0", "0.02", "0.04", "0.06"],
      YLABELS_A[0], 26, 105, 497, True)
# the reference prints the "0" label a little above the axis line
lab0 = a1.yaxis.get_major_ticks()[0].label1
lab0.set_transform(lab0.get_transform() + ScaledTranslation(0, 10 / 100, fig.dpi_scale_trans))

a2 = px_axes(112, 307, 596, 543)
abr_panel(a2, ABR_MAG)
style(a2, (0.255, 1.016), [0.4, 0.6, 0.8, 1.0], ["0.4", "0.6", "0.8", "1.0"],
      YLABELS_A[1], 31, 112, 484, True)

a3 = px_axes(112, 617, 596, 810)
abr_panel(a3, ABR_GRAD)
style(a3, (0.4, 0.71), [0.4, 0.5, 0.6, 0.7], ["0.4", "0.5", "0.6", "0.7"],
      YLABELS_A[2], 27, 112, 484, True)
a3.set_xlabel(XLABEL, fontsize=20, color=INK, va="center", fontfamily=SERIF)
a3.xaxis.set_label_coords((358 - 112) / 484, -(873 - 810) / 193)

# ---- right column
b1 = px_axes(713, 53, 1198, 249)
mlr_panel(b1, eeg_rows, 0.85)
style(b1, (-2, 2), [-2, 0, 2], ["-2", "0", "2"], YLABELS_B[0], 661, 713, 485, False)

b2 = px_axes(713, 345, 1198, 541)
mlr_panel(b2, mag_rows, 0.75)
style(b2, (-20, 20), [-20, 0, 20], ["-20", "0", "20"], YLABELS_B[1], 659, 713, 485, False)

b3 = px_axes(713, 612, 1198, 809)
mlr_panel(b3, grad_rows, 0.7)
style(b3, (-5, 5), [-5, 0, 5], ["-5", "0", "5"], YLABELS_B[2], 659, 713, 485, False)
b3.set_xlabel(XLABEL, fontsize=20, color=INK, va="center", fontfamily=SERIF)
b3.xaxis.set_label_coords((962 - 713) / 485, -(873 - 809) / 197)

for ax, peaks in [(b1, PEAKS_EEG), (b2, PEAKS_MAG), (b3, PEAKS_GRAD)]:
    for lab, x, y in peaks:
        ax.text(x, y, lab, color=RED, fontsize=19, family=["Lato", "DejaVu Sans"],
                ha="center", va="center", clip_on=False, zorder=5)

# ---- titles
fig.text(368 / W, 1 - 15 / H, TITLE_A, fontsize=20, color=INK, ha="center", va="center")
fig.text(956 / W, 1 - 15 / H, TITLE_B, fontsize=20, color=INK, ha="center", va="center")

# ---- "Expected Wave V" markers (pixel positions)
for ty, ay in [(55, 75), (310, 333), (678, 698)]:
    fig.text(239 / W, 1 - ty / H, WAVE_TEXT, fontsize=20, color=RED, ha="center", va="center")
    fig.add_artist(matplotlib.patches.FancyArrowPatch(
        (222 / W, 1 - ay / H), (250 / W, 1 - ay / H), transform=fig.transFigure,
        arrowstyle="<|-|>", mutation_scale=9, lw=2.2, color=RED, shrinkA=0, shrinkB=0))

fig.savefig("out.png", dpi=100, facecolor="white")
